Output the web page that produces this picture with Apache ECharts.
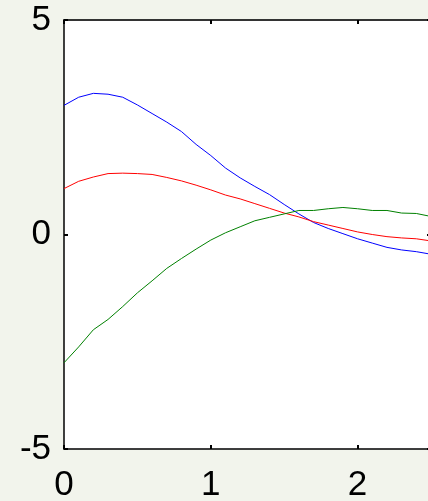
<!DOCTYPE html>
<html>
<head>
<meta charset="utf-8">
<script src="https://cdn.jsdelivr.net/npm/echarts@6/dist/echarts.min.js"></script>
<style>
  html, body { margin: 0; padding: 0; background: #f2f4ec; overflow: hidden; }
  #chart { width: 428px; height: 501px; }
</style>
</head>
<body>
<div id="chart"></div>
<script>
// sample positions along the horizontal axis
const xs = [0, 0.1, 0.2, 0.3, 0.4, 0.5, 0.6, 0.7, 0.8, 0.9, 1.0, 1.1, 1.2,
            1.3, 1.4, 1.5, 1.6, 1.7, 1.8, 1.9, 2.0, 2.1, 2.2, 2.3, 2.4, 2.5];

const blueVals = [3.01, 3.20, 3.29, 3.27, 3.20, 3.02, 2.82, 2.62, 2.40, 2.10, 1.84, 1.55, 1.32,
                  1.12, 0.93, 0.70, 0.48, 0.28, 0.14, 0.02, -0.10, -0.20, -0.30, -0.36, -0.40, -0.46];
const redVals = [1.07, 1.24, 1.34, 1.42, 1.43, 1.42, 1.40, 1.33, 1.25, 1.15, 1.04, 0.92, 0.83,
                 0.72, 0.61, 0.50, 0.41, 0.30, 0.22, 0.14, 0.06, 0.00, -0.05, -0.08, -0.10, -0.15];
const greenVals = [-2.99, -2.62, -2.22, -1.98, -1.68, -1.36, -1.08, -0.79, -0.56, -0.34, -0.13, 0.04, 0.18,
                   0.32, 0.40, 0.48, 0.56, 0.56, 0.60, 0.63, 0.60, 0.56, 0.56, 0.50, 0.49, 0.42];

const xTicks = [0, 1, 2];
const yTicks = [-5, 0, 5];

const pairs = vals => xs.map((x, i) => [x, vals[i]]);

const labelFont = { fontFamily: 'Liberation Sans, Arial, sans-serif', fontSize: 35, color: '#000' };
const tickStyle = { show: true, inside: true, length: 4, lineStyle: { color: '#000', width: 2 } };

const chart = echarts.init(document.getElementById('chart'), null, { renderer: 'canvas' });
chart.setOption({
  backgroundColor: '#f2f4ec',
  animation: false,
  grid: {
    left: 64, top: 20, width: 367, height: 429,
    outerBoundsMode: 'none', containLabel: false,
    show: true, backgroundColor: '#ffffff', borderWidth: 0
  },
  xAxis: [
    {
      type: 'value', min: 0, max: 2.5, interval: 1, position: 'bottom',
      axisLine: { show: true, onZero: false, lineStyle: { color: '#000', width: 1.5 } },
      axisTick: tickStyle,
      splitLine: { show: false },
      axisLabel: Object.assign({ margin: 19,
        formatter: v => xTicks.includes(v) ? String(v) : '' }, labelFont)
    },
    {
      type: 'value', min: 0, max: 2.5, interval: 1, position: 'top',
      axisLine: { show: true, onZero: false, lineStyle: { color: '#333', width: 2 } },
      axisTick: tickStyle,
      splitLine: { show: false },
      axisLabel: { show: false }
    }
  ],
  yAxis: [
    {
      type: 'value', min: -5, max: 5, interval: 5, position: 'left',
      axisLine: { show: true, onZero: false, lineStyle: { color: '#000', width: 1.5 } },
      axisTick: tickStyle,
      splitLine: { show: false },
      axisLabel: Object.assign({ margin: 13,
        formatter: v => yTicks.includes(v) ? String(v) : '' }, labelFont)
    },
    {
      type: 'value', min: -5, max: 5, interval: 5, position: 'right',
      axisLine: { show: true, onZero: false, lineStyle: { color: '#000', width: 1.5 } },
      axisTick: tickStyle,
      splitLine: { show: false },
      axisLabel: { show: false }
    }
  ],
  series: [
    { type: 'line', data: pairs(blueVals), showSymbol: false, lineStyle: { color: '#0000ff', width: 1 } },
    { type: 'line', data: pairs(redVals), showSymbol: false, lineStyle: { color: '#ff0000', width: 1 } },
    { type: 'line', data: pairs(greenVals), showSymbol: false, lineStyle: { color: '#008000', width: 1 } }
  ]
});
</script>
</body>
</html>
